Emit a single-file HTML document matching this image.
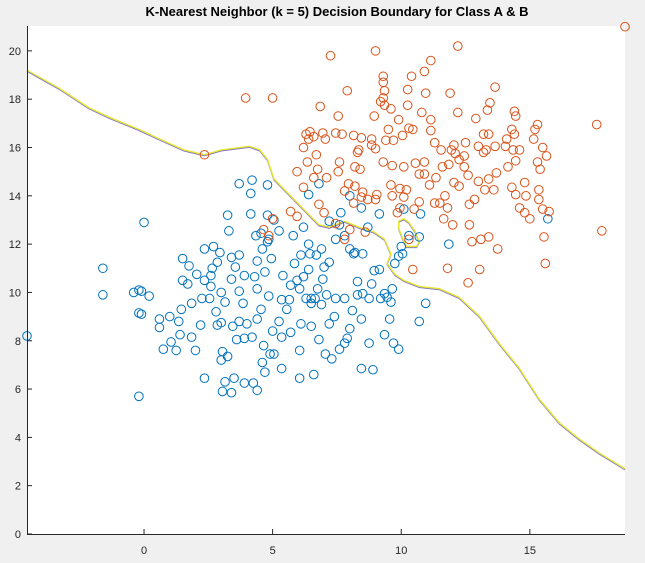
<!DOCTYPE html>
<html><head><meta charset="utf-8"><style>
body{margin:0;background:#f0f0f0;width:645px;height:563px;overflow:hidden;font-family:"Liberation Sans",sans-serif}
svg{display:block}
</style></head><body>
<svg id="chart" width="645" height="563">
<rect x="0" y="0" width="645" height="563" fill="#f0f0f0"/>
<rect x="27" y="26" width="598" height="508" fill="#fff"/>
<text x="337" y="16" text-anchor="middle" font-size="13" font-weight="bold" fill="#000">K-Nearest Neighbor (k = 5) Decision Boundary for Class A &amp; B</text>
<g id="ticks"></g><g id="bnd"></g><g id="pts"></g>
<path d="M27.5 26 V534.5 H625" fill="none" stroke="#262626" stroke-width="1"/>
</svg>
<script>
const xTicks=[0,5,10,15];
const yTicks=[0,2,4,6,8,10,12,14,16,18,20];
const classB=[[-4.55,8.2],[-1.6,11.0],[-1.6,9.9],[0,12.9],[-0.2,5.7],[-0.4,10.0],[-0.2,10.1],[-0.1,10.05],[-0.2,9.15],[-0.1,9.1],[1.5,11.4],[1.7,10.35],[1.35,8.8],[1.25,7.6],[1.85,9.55],[1.5,10.5],[1.75,11.1],[2.05,10.75],[2.35,11.8],[2.25,9.75],[2.65,11.0],[2.7,11.9],[2.6,10.7],[2.85,11.25],[3.0,10.0],[3.15,9.6],[3.0,8.75],[3.05,7.55],[3.3,12.55],[3.25,13.2],[3.4,11.45],[3.4,10.55],[3.55,11.05],[3.7,10.05],[3.7,8.8],[3.9,8.1],[3.85,9.55],[4.15,13.25],[4.15,14.1],[4.2,14.65],[4.35,12.35],[4.4,11.3],[4.55,9.3],[4.6,11.8],[4.7,10.85],[4.8,12.1],[4.85,12.2],[4.95,11.4],[5.05,13.0],[5.25,12.55],[5.4,10.7],[5.55,9.3],[5.7,10.3],[5.8,12.35],[6.05,10.15],[6.1,11.55],[6.2,12.7],[6.3,9.75],[6.4,10.95],[6.5,8.6],[6.7,11.55],[6.75,10.15],[6.9,11.8],[7.0,11.05],[7.2,11.25],[7.45,9.75],[7.6,12.8],[8.0,11.8],[8.2,11.65],[8.3,10.45],[8.5,11.6],[8.85,10.35],[8.95,10.9],[9.15,10.95],[9.2,9.75],[9.35,9.95],[9.55,8.9],[9.35,8.25],[9.7,7.9],[9.9,7.65],[9.75,11.2],[9.9,11.5],[10.0,11.9],[8.45,13.5],[8.3,9.9],[7.45,12.2],[6.95,10.55],[6.5,9.75],[5.95,10.5],[5.35,9.7],[4.85,9.85],[4.4,8.9],[4.0,8.7],[3.6,8.05],[3.25,7.35],[3.5,6.45],[3.9,6.25],[4.25,6.25],[4.6,7.1],[4.9,7.45],[5.35,8.15],[5.7,8.35],[6.05,6.45],[6.6,6.6],[7.05,7.45],[7.6,7.65],[7.8,7.9],[8.0,8.5],[8.1,9.25],[8.75,7.9],[8.9,6.8],[7.1,9.9],[7.2,12.95],[10.75,13.25],[11.85,12.0],[9.15,13.25],[8.45,8.9],[7.8,9.75],[3.7,14.5],[4.8,14.45],[4.8,13.2],[6.4,12.0],[3.15,6.3],[3.0,7.2],[0.6,8.55],[0.75,7.65],[1.05,7.95],[1.4,8.25],[2.2,8.65],[2.85,8.65],[3.45,8.6],[4.2,8.15],[4.65,7.8],[5.05,7.45],[5.35,6.85],[6.2,10.65],[5.85,11.2],[2.55,9.75],[2.8,9.2],[1.45,9.3],[2.0,7.6],[2.35,6.45],[3.05,5.9],[3.4,5.85],[1.85,8.15],[1.0,9.0],[0.6,8.9],[0.2,9.85],[3.9,10.7],[4.3,10.65],[4.4,10.15],[5.65,9.7],[6.1,8.7],[6.5,9.55],[7.4,9.0],[8.45,6.85],[7.9,8.1],[8.5,9.95],[8.75,9.75],[9.45,9.8],[9.6,9.6],[9.65,10.15],[10.7,8.8],[10.95,9.55],[10.05,11.6],[10.3,12.35],[15.7,13.05],[7.8,12.35],[7.65,13.3],[10.7,12.3],[10.1,13.45],[8.7,12.7],[8.0,14.0],[4.7,6.7],[4.4,5.95],[4.55,12.45],[2.95,11.65],[2.35,10.5],[2.6,10.25],[3.7,11.55],[5.0,8.4],[5.25,8.8],[6.8,8.05],[6.9,9.5],[6.65,9.75],[7.2,8.7],[6.05,7.6],[7.3,7.25],[6.45,11.6],[8.15,11.6],[6.4,14.05],[6.8,14.5]];
const classA=[[18.7,21.0],[12.2,20.2],[7.25,19.8],[9.0,20.0],[11.15,19.6],[10.9,19.15],[10.4,18.95],[9.3,18.95],[10.25,18.4],[9.3,18.7],[3.95,18.05],[5.0,18.05],[9.35,18.35],[6.85,17.7],[9.3,18.05],[9.35,17.75],[10.95,18.25],[11.9,18.25],[7.9,18.35],[13.65,18.5],[8.95,17.3],[9.9,17.15],[13.45,17.85],[12.2,17.45],[14.4,17.5],[7.55,17.3],[9.2,17.9],[9.6,17.6],[10.25,17.75],[10.8,17.45],[11.15,17.15],[12.9,17.2],[13.35,17.55],[14.45,17.3],[15.3,16.95],[17.6,16.95],[15.2,16.75],[6.45,16.65],[6.6,16.45],[6.95,16.6],[6.3,16.55],[7.05,16.35],[6.4,16.35],[7.7,16.55],[7.45,16.6],[8.15,16.5],[8.45,16.4],[8.35,15.9],[8.85,16.35],[9.0,15.95],[8.85,16.1],[8.3,15.8],[9.4,16.3],[9.5,16.75],[9.7,16.3],[10.05,16.5],[10.3,16.8],[10.45,16.75],[11.15,16.7],[11.3,16.2],[11.55,15.9],[12.05,16.1],[12.25,15.5],[12.5,16.2],[13.0,16.05],[13.2,16.55],[13.4,16.55],[14.1,16.35],[14.3,16.75],[14.6,15.9],[14.45,15.45],[14.35,15.9],[14.05,16.05],[13.65,16.05],[13.3,15.9],[13.2,15.8],[12.45,15.65],[12.1,15.75],[11.95,15.9],[15.65,15.65],[12.45,15.2],[11.85,15.3],[11.6,15.2],[10.9,15.4],[10.55,15.35],[9.65,15.25],[9.3,15.4],[8.4,15.1],[8.2,15.2],[7.6,15.4],[6.75,15.1],[5.95,15.0],[6.2,14.35],[7.1,14.75],[7.55,15.0],[7.95,14.5],[8.2,14.4],[8.7,13.85],[8.5,14.15],[9.0,13.85],[9.6,14.45],[9.95,14.3],[10.1,13.95],[10.7,13.75],[11.3,13.7],[11.5,13.7],[11.7,14.0],[11.8,13.5],[12.65,13.65],[12.85,13.85],[13.25,14.25],[13.6,14.25],[14.3,14.35],[13.4,14.7],[13.0,14.6],[14.6,13.5],[15.35,13.85],[14.8,13.3],[15.55,12.3],[15.75,13.35],[12.65,12.8],[13.1,12.2],[12.75,12.1],[13.4,12.3],[13.75,11.8],[13.05,10.95],[11.8,11.0],[12.6,10.4],[10.3,12.2],[10.45,10.95],[8.45,13.95],[7.8,14.2],[8.15,13.7],[6.8,13.65],[5.95,13.15],[5.7,13.35],[5.0,13.05],[6.2,16.0],[6.35,15.4],[6.7,15.7],[6.6,14.75],[11.1,14.45],[10.9,14.9],[10.5,13.45],[10.7,14.9],[11.35,14.75],[12.25,14.4],[12.6,14.85],[14.15,15.2],[14.4,16.55],[15.15,16.35],[15.5,16.0],[15.3,15.4],[15.4,15.1],[15.35,14.25],[14.8,14.55],[14.85,14.0],[14.45,14.05],[15.0,13.05],[17.8,12.55],[15.5,13.45],[13.7,14.95],[2.35,15.7],[7.45,12.85],[4.65,12.6],[4.85,12.35],[7.8,12.2],[8.0,12.6],[8.6,12.5],[7.0,13.3],[10.1,15.2],[10.2,14.25],[11.65,13.05],[12.0,12.8],[12.05,14.55],[9.65,14.0],[9.05,14.05],[9.85,13.3],[9.95,13.5],[15.6,11.2]];
const boundaryMain=[[-4.55,19.2],[-3.3,18.45],[-2.15,17.65],[-1.35,17.25],[-0.2,16.75],[0.6,16.35],[1.55,15.9],[2.35,15.7],[3.0,15.9],[4.1,16.05],[4.5,15.9],[4.8,15.5],[5.05,14.7],[5.65,14.05],[6.2,13.45],[6.8,12.8],[7.2,12.7],[7.8,12.95],[8.35,12.7],[8.95,12.5],[9.35,12.2],[9.6,11.6],[9.45,11.2],[9.75,10.75],[10.1,10.5],[10.7,10.25],[11.5,10.15],[12.25,9.8],[13.05,9.0],[13.8,7.9],[14.6,6.85],[15.35,5.6],[16.15,4.6],[16.9,3.95],[17.7,3.35],[18.7,2.7]];
const boundaryIsland=[[9.9,12.95],[10.1,13.05],[10.3,12.9],[10.55,12.5],[10.7,12.1],[10.6,11.9],[10.2,11.9],[10.05,12.25],[9.9,12.65],[9.9,12.95]];

const X0=27,X1=625,Y0=534,Y1=26,XMIN=-4.55,XMAX=18.7,YMIN=0,YMAX=21.03;
const sx=v=>X0+(v-XMIN)/(XMAX-XMIN)*(X1-X0);
const sy=v=>Y0-(v-YMIN)/(YMAX-YMIN)*(Y0-Y1);
const NS="http://www.w3.org/2000/svg";
function mk(tag,attrs,parent){const e=document.createElementNS(NS,tag);for(const k in attrs)e.setAttribute(k,attrs[k]);parent.appendChild(e);return e;}
const tg=document.getElementById('ticks');
xTicks.forEach(t=>{
  const l=mk('line',{x1:sx(t),x2:sx(t),y1:Y0,y2:Y0-5,stroke:'#262626'},tg);
  
  
  const tx=mk('text',{x:sx(t),y:554,'text-anchor':'middle','font-size':'11',fill:'#262626'},tg);
  tx.textContent=t;
  
  
});
yTicks.forEach(t=>{
  const l=mk('line',{x1:X0,x2:X0+5,y1:sy(t),y2:sy(t),stroke:'#262626'},tg);
  
  
  const tx=mk('text',{x:21,y:sy(t)+4,'text-anchor':'end','font-size':'11',fill:'#262626'},tg);
  tx.textContent=t;
  
  
});
const bg=document.getElementById('bnd');
[boundaryMain,boundaryIsland].forEach(arr=>{
  const d=arr.map((p,i)=>(i?'L':'M')+sx(p[0]).toFixed(1)+' '+sy(p[1]).toFixed(1)).join(' ');
  const b=mk('path',{d:d,fill:'none',stroke:'#7e6fd6','stroke-width':'1.2',transform:'translate(0,1)'},bg);
  
  
  const y=mk('path',{d:d,fill:'none',stroke:'#e6e62a','stroke-width':'1.4'},bg);
  
  
});
const pg=document.getElementById('pts');
classB.forEach(p=>{
  const c=mk('circle',{cx:sx(p[0]),cy:sy(p[1]),r:4.3,fill:'none',stroke:'#0072BD','stroke-width':'1'},pg);
  
  
});
classA.forEach(p=>{
  const c=mk('circle',{cx:sx(p[0]),cy:sy(p[1]),r:4.3,fill:'none',stroke:'#D95319','stroke-width':'1'},pg);
  
  
});
</script>
</body></html>
